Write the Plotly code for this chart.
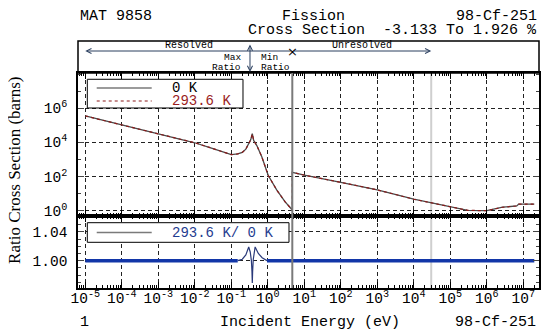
import math
import plotly.graph_objects as go

# ---------------- data ----------------
energy_0K = [1e-5, 1e-4, 1e-3, 1e-2, 0.03, 0.06, 0.1, 0.15, 0.2, 0.25, 0.3, 0.34, 0.376, 0.41,
             0.5, 0.68, 1.03, 1.75, 2.95, 4.69, 4.69, 10, 100, 1e3, 1e4, 1e5, 3e5, 1e6,
             2.7e6, 6.6e6, 7.5e6, 2e7]
xs_0K = [3.5e5, 1.07e5, 3.2e4, 9.5e3, 4.5e3, 2.75e3, 1.9e3, 2.1e3, 2.6e3, 4.0e3, 8.0e3, 1.4e4, 3.2e4, 1.3e4,
         6.5e3, 1.5e3, 115, 16.5, 3.4, 1.1, 178, 120, 46, 16.6, 4.7, 1.6, 1.05, 1.0,
         1.6, 1.9, 2.45, 2.45]
energy_293K = list(energy_0K)
xs_293K = [3.5e5, 1.07e5, 3.2e4, 9.5e3, 4.5e3, 2.75e3, 1.9e3, 2.1e3, 2.6e3, 4.05e3, 8.1e3, 1.4e4, 3.1e4, 1.3e4,
           6.5e3, 1.5e3, 115, 16.5, 3.4, 1.1, 178, 120, 46, 16.6, 4.7, 1.6, 1.05, 1.0,
           1.6, 1.9, 2.45, 2.45]

# ratio 293.6 K / 0 K : flat parts and the resonance region
ratio_flat_energy = [1e-5, 0.15, None, 0.95, 2e7]
ratio_flat = [1.0, 1.0, None, 1.0, 1.0]
ratio_res_energy = [0.15, 0.2, 0.25, 0.28, 0.3, 0.33, 0.355, 0.368, 0.376, 0.384, 0.4, 0.43, 0.45,
                    0.55, 0.7, 0.95]
ratio_res = [1.0, 1.002, 1.008, 1.015, 1.019, 1.012, 1.0, 0.985, 0.969, 0.985, 1.002, 1.014, 1.019,
             1.01, 1.004, 1.0]

x_tick_vals = [1e-5, 1e-4, 1e-3, 1e-2, 1e-1, 1, 10, 100, 1e3, 1e4, 1e5, 1e6, 1e7]
x_tick_text = ["10<sup>-5</sup>", "10<sup>-4</sup>", "10<sup>-3</sup>", "10<sup>-2</sup>",
               "10<sup>-1</sup>", "10<sup>0</sup>", "10<sup>1</sup>", "10<sup>2</sup>",
               "10<sup>3</sup>", "10<sup>4</sup>", "10<sup>5</sup>", "10<sup>6</sup>",
               "10<sup>7</sup>"]
y_xs_tick_vals = [1, 1e2, 1e4, 1e6]
y_xs_tick_text = ["10<sup>0</sup>", "10<sup>2</sup>", "10<sup>4</sup>", "10<sup>6</sup>"]
y_ratio_tick_vals = [1.00, 1.04]
y_ratio_tick_text = ["1.00", "1.04"]

resolved_lower = 1e-5
resolved_upper = 4.69
unresolved_upper = 3.0e4
max_ratio_energy = 0.325

legend_upper_names = ["0 K", "293.6 K"]
legend_lower_names = ["293.6 K/ 0 K"]

# ---------------- figure ----------------
MONO = "Liberation Mono"
SERIF = "Liberation Serif"
L = math.log10
RED = "#8b1a1a"
BLUE_TXT = "#1f3c8f"

fig = go.Figure()

fig.add_trace(go.Scatter(x=energy_0K, y=xs_0K, mode="lines", name=legend_upper_names[0],
                         line=dict(color="#4a4a4a", width=1.3), xaxis="x2", yaxis="y2",
                         showlegend=False))
fig.add_trace(go.Scatter(x=energy_293K, y=xs_293K, mode="lines", name=legend_upper_names[1],
                         line=dict(color=RED, width=1.2, dash="dot"), xaxis="x2", yaxis="y2",
                         showlegend=False))
fig.add_trace(go.Scatter(x=ratio_flat_energy, y=ratio_flat, mode="lines", name=legend_lower_names[0],
                         showlegend=False, line=dict(color="#1236a8", width=3.5), xaxis="x",
                         yaxis="y", connectgaps=False))
fig.add_trace(go.Scatter(x=ratio_res_energy, y=ratio_res, mode="lines", name=legend_lower_names[0],
                         showlegend=False, line=dict(color="#2a3a7a", width=1.2), xaxis="x",
                         yaxis="y"))

dom_split = 0.2915
dom_top = 0.8704

common_x = dict(type="log", range=[-5.2, 7.43], showline=True, linecolor="black", linewidth=1.5,
                mirror="allticks", ticks="inside", ticklen=6, tickcolor="black",
                showgrid=True, gridcolor="#222222", gridwidth=1, griddash="4px,3px",
                zeroline=False,
                minor=dict(ticks="inside", ticklen=3, tickcolor="black", dtick="D1", showgrid=False))

# the page keeps its default 8 px body margin (left/top), so the figure is 8 px smaller
# and its left/top margins are 8 px smaller; right/bottom margins stay as in the original
fig.update_layout(
    width=545, height=325,
    margin=dict(l=70, r=14, t=33, b=45),
    paper_bgcolor="white", plot_bgcolor="white",
    font=dict(family=MONO, size=15, color="black"),
    showlegend=False,
    xaxis=dict(common_x, anchor="y", tickmode="array", tickvals=x_tick_vals, ticktext=x_tick_text,
               ticklabelstandoff=-4,
               tickfont=dict(family=MONO, size=14.5, color="black")),
    xaxis2=dict(common_x, anchor="y2", matches="x", tickmode="array", tickvals=x_tick_vals,
                showticklabels=False),
    yaxis=dict(domain=[0, dom_split], range=[0.962, 1.062], tickmode="array",
               tickvals=y_ratio_tick_vals, ticktext=y_ratio_tick_text,
               showline=True, linecolor="black", linewidth=1.5, mirror="allticks",
               ticks="inside", ticklen=6, showgrid=True, gridcolor="#222222", griddash="4px,3px",
               zeroline=False, ticklabelstandoff=6,
               tickfont=dict(family=MONO, size=14.5, color="black"),
               minor=dict(ticks="inside", ticklen=3, dtick=0.01, tick0=0, showgrid=False)),
    yaxis2=dict(domain=[dom_split, dom_top], type="log", range=[-0.31, 8.06], tickmode="array",
                tickvals=y_xs_tick_vals, ticktext=y_xs_tick_text,
                showline=True, linecolor="black", linewidth=1.5, mirror="allticks",
                ticks="inside", ticklen=6, showgrid=True, gridcolor="#222222", griddash="4px,3px",
                zeroline=False, ticklabelstandoff=6,
                tickfont=dict(family=MONO, size=14.5, color="black"),
                minor=dict(ticks="inside", ticklen=3, dtick=1, tick0=0, showgrid=False)),
)

shapes = []
# header box
shapes.append(dict(type="rect", xref="paper", yref="paper", x0=0, x1=1, y0=dom_top, y1=1,
                   line=dict(color="black", width=1.5)))
# region boundary lines (shape x is in data units)
shapes.append(dict(type="line", xref="x", yref="paper", x0=resolved_upper, x1=resolved_upper,
                   y0=0, y1=dom_top, line=dict(color="#7a7a7a", width=2), layer="above"))
shapes.append(dict(type="line", xref="x", yref="paper", x0=unresolved_upper, x1=unresolved_upper,
                   y0=0, y1=dom_top, line=dict(color="#cfcfcf", width=2), layer="below"))

# legend boxes (drawn by hand to match the tight spacing of the original)
lg_x0, lg_line0, lg_line1, lg_text = 0.0202, 0.0406, 0.1599, 0.1996
lg_row1, lg_row2 = 0.8097, 0.7571
shapes.append(dict(type="rect", xref="paper", yref="paper", x0=lg_x0, x1=0.3579, y0=0.7288, y1=0.845,
                   line=dict(color="black", width=1), fillcolor="white", layer="above"))
shapes.append(dict(type="line", xref="paper", yref="paper", x0=lg_line0, x1=lg_line1, y0=lg_row1,
                   y1=lg_row1, line=dict(color="#7a7a7a", width=1.5), layer="above"))
shapes.append(dict(type="line", xref="paper", yref="paper", x0=lg_line0, x1=lg_line1, y0=lg_row2,
                   y1=lg_row2, line=dict(color=RED, width=1.2, dash="dot"), layer="above"))
shapes.append(dict(type="rect", xref="paper", yref="paper", x0=lg_x0, x1=0.4577, y0=0.185, y1=0.2644,
                   line=dict(color="black", width=1), fillcolor="white", layer="above"))
shapes.append(dict(type="line", xref="paper", yref="paper", x0=lg_line0, x1=lg_line1, y0=0.2243,
                   y1=0.2243, line=dict(color="#7a7a7a", width=1.5), layer="above"))


def text(x, y, s, xanchor="center", xref="paper", **kw):
    d = dict(x=x, y=y, xref=xref, yref="paper", text=s, xanchor=xanchor, yanchor="middle",
             showarrow=False)
    d.update(kw)
    return d


ann = []
ann.append(text(lg_text, lg_row1, legend_upper_names[0], "left",
                font=dict(family=MONO, size=14, color="black")))
ann.append(text(lg_text, lg_row2, legend_upper_names[1], "left",
                font=dict(family=MONO, size=14, color="#9a1c1c")))
ann.append(text(lg_text, 0.2243, legend_lower_names[0], "left",
                font=dict(family=MONO, size=14, color=BLUE_TXT)))

arrow_y = 0.9595
ann.append(dict(x=L(resolved_lower), y=arrow_y, xref="x", yref="paper", ax=L(resolved_upper), ay=0,
                axref="x", ayref="pixel", text="", showarrow=True, arrowhead=5, arrowwidth=1))
ann.append(dict(x=L(unresolved_upper), y=arrow_y, xref="x", yref="paper", ax=L(resolved_upper), ay=0,
                axref="x", ayref="pixel", text="", showarrow=True, arrowhead=5, arrowwidth=1))
ann.append(text(L(resolved_upper), arrow_y, "\u00d7", xref="x",
                font=dict(family="DejaVu Sans", size=13)))
ann.append(text((L(resolved_lower) + L(resolved_upper)) / 2, 0.982, "Resolved", xref="x",
                font=dict(family=MONO, size=10)))
ann.append(text((L(resolved_upper) + L(unresolved_upper)) / 2, 0.982, "Unresolved", xref="x",
                font=dict(family=MONO, size=10)))
ann.append(dict(x=L(max_ratio_energy), y=dom_top + 0.004, xref="x", yref="paper", ax=0, ay=-29,
                text="", showarrow=True, arrowhead=5, startarrowhead=5, arrowside="end+start",
                arrowwidth=1))
ann.append(text(L(max_ratio_energy) - 0.2, 0.935, "Max", "right", xref="x",
                font=dict(family=MONO, size=9.5)))
ann.append(text(L(max_ratio_energy) - 0.2, 0.8947, "Ratio", "right", xref="x",
                font=dict(family=MONO, size=9.5)))
ann.append(text(L(max_ratio_energy) + 0.25, 0.935, "Min", "left", xref="x",
                font=dict(family=MONO, size=9.5)))
ann.append(text(L(max_ratio_energy) + 0.25, 0.8947, "Ratio", "left", xref="x",
                font=dict(family=MONO, size=9.5)))

# titles around the frame
ann.append(text(0.0, 1.101, "MAT 9858", "left"))
ann.append(text(0.51, 1.101, "Fission"))
ann.append(text(1.0, 1.101, "98-Cf-251", "right"))
ann.append(text(1.0, 1.0445, "Cross Section  -3.133 To 1.926 %", "right"))
ann.append(text(0.0, -0.1417, "1", "left"))
ann.append(text(0.503, -0.1417, "Incident Energy (eV)"))
ann.append(text(0.998, -0.1417, "98-Cf-251", "right"))
ann.append(text(-0.1367, 0.478, "Ratio Cross Section (barns)", textangle=-90,
                font=dict(family=SERIF, size=17)))
fig.update_layout(annotations=ann, shapes=shapes)

fig.write_html("out.html")
